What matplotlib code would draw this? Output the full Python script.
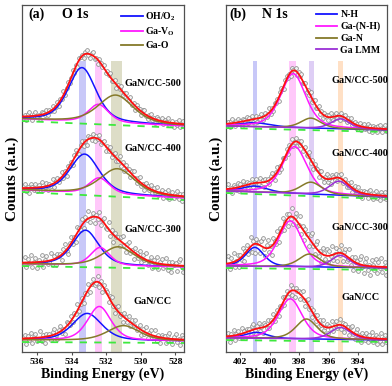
import numpy as np
import matplotlib
matplotlib.use('Agg')
import matplotlib.pyplot as plt
from matplotlib.lines import Line2D

plt.rcParams['font.family'] = 'Liberation Serif'
plt.rcParams['font.weight'] = 'bold'
plt.rcParams['mathtext.fontset'] = 'custom'
plt.rcParams['mathtext.rm'] = 'Liberation Serif:bold'
plt.rcParams['mathtext.it'] = 'Liberation Serif:bold'

# ---- data (eV, counts in arbitrary offset units) ----
samples = ['GaN/CC-500', 'GaN/CC-400', 'GaN/CC-300', 'GaN/CC']

# O 1s
o_names = ['OH/O$_2$', 'Ga-V$_\\mathrm{O}$', 'Ga-O']
o_colors = ['#1414ff', '#ff19ff', '#857a2a']
o_centers = [[533.40, 532.45, 531.45],
             [533.25, 532.40, 531.35],
             [533.20, 532.35, 531.30],
             [533.10, 532.40, 531.00]]
o_heights = [[54, 18, 28],
             [39, 16, 26],
             [35, 18, 19],
             [27, 34, 15]]
o_fwhm = [[1.9, 1.4, 2.4],
          [2.0, 1.4, 2.4],
          [1.8, 1.3, 2.2],
          [2.0, 1.6, 2.2]]
o_base_left = [233, 162, 88, 12]
o_base_right = [226, 154, 85, 11]
o_noise = [4, 5, 7, 6]
o_bands = [533.37, 532.43, 531.40]
o_band_w = [0.37, 0.40, 0.62]
o_band_colors = ['#9c9cf4', '#ff9cf6', '#c2c29a']

# N 1s
n_names = ['N-H', 'Ga-(N-H)', 'Ga-N', 'Ga LMM']
n_colors = ['#1414ff', '#ff19ff', '#857a2a', '#9a2fd6']
n_centers = [[401.0, 398.40, 397.2, 395.2],
             [401.0, 398.30, 397.2, 395.3],
             [401.0, 398.60, 397.3, 395.2],
             [400.9, 398.60, 397.5, 395.2]]
n_heights = [[4, 54, 10, 10],
             [6, 47, 12, 14],
             [19, 46, 13, 12],
             [6, 40, 20, 12]]
n_fwhm = [[2.5, 2.0, 1.6, 1.5],
          [2.0, 2.0, 1.7, 1.6],
          [1.5, 1.9, 1.7, 1.5],
          [1.8, 1.9, 1.7, 1.6]]
n_base_left = [226, 161, 86, 14]
n_base_right = [222, 155, 84, 12]
n_noise = [4, 5, 9, 6]
n_bands = [400.98, 398.45, 397.13, 395.22]
n_band_w = [0.26, 0.46, 0.34, 0.36]
n_band_colors = ['#9c9cf4', '#ff9cf6', '#c4a6ee', '#ffc896']

# hand-typed residual pattern for the measured points
resid = [0.3, -0.8, 0.6, 1.0, -0.2, -0.9, 0.4, 0.9, -0.5, 0.1,
         -1.0, 0.7, 0.2, -0.4, 0.8, -0.7, 0.5, -0.1, 1.0, -0.6,
         0.0, 0.6, -0.9, 0.3, -0.3, 0.9, -0.8, 0.2, 0.7, -0.5,
         -0.2, 1.0, -0.7, 0.4, -1.0, 0.5, 0.1]


def peak(x, c, h, w, eta=0.45):
    g = np.exp(-4 * np.log(2) * ((x - c) / w) ** 2)
    l = 1 / (1 + (2 * (x - c) / w) ** 2)
    return h * (eta * l + (1 - eta) * g)


def draw_panel(ax, xlim, centers, heights, fwhm, bl, br, noise, colors,
               bands, band_w, band_colors):
    x = np.linspace(xlim[0], xlim[1], 300)
    xd = np.arange(xlim[0] - 0.15, xlim[1], -0.09)
    for b, w, c in zip(bands, band_w, band_colors):
        ax.axvspan(b - w / 2, b + w / 2, ymin=0, ymax=0.84, color=c,
                   alpha=0.55, lw=0, zorder=0)
    for i in range(len(centers)):
        base = bl[i] + (br[i] - bl[i]) * (xlim[0] - x) / (xlim[0] - xlim[1])
        based = bl[i] + (br[i] - bl[i]) * (xlim[0] - xd) / (xlim[0] - xlim[1])
        total = base.copy()
        totald = based.copy()
        for c, h, w, col in zip(centers[i], heights[i], fwhm[i], colors):
            comp = peak(x, c, h, w)
            total += comp
            totald += peak(xd, c, h, w)
            ax.plot(x, base + comp, color=col, lw=1.1, zorder=3)
        r = np.array([resid[(k + 7 * i) % len(resid)] for k in range(len(xd))])
        ax.plot(xd, totald + noise[i] * r, 'o', ms=2.7, mfc='#f4f4f4',
                mec='#8a8a8a', mew=0.55, zorder=2)
        ax.plot(x, total, color='#ff1010', lw=1.3, zorder=4)
        ax.plot(x, base - 2, color='#3ee83e', lw=1.3, ls=(0, (4, 4)), zorder=5)
    ax.set_xlim(xlim)
    ax.set_ylim(0, 347)
    ax.set_yticks([])
    for s in ax.spines.values():
        s.set_color('#505050')
        s.set_linewidth(0.9)
    ax.tick_params(axis='x', labelsize=6.8, length=2.5, width=0.8,
                   color='#505050', pad=2)
    ax.set_xlabel('Binding Energy (eV)', fontsize=10, fontweight='bold',
                  labelpad=1)
    ax.set_ylabel('Counts (a.u.)', fontsize=11, fontweight='bold',
                  labelpad=2)


fig = plt.figure(figsize=(3.92, 3.86), dpi=100)
ax1 = fig.add_axes([22 / 392, 34 / 386, 162 / 392, 347 / 386])
ax2 = fig.add_axes([226 / 392, 34 / 386, 161 / 392, 347 / 386])

draw_panel(ax1, (536.87, 527.5), o_centers, o_heights, o_fwhm,
           o_base_left, o_base_right, o_noise, o_colors,
           o_bands, o_band_w, o_band_colors)
ax1.set_xticks([536, 534, 532, 530, 528])
draw_panel(ax2, (402.95, 392.05), n_centers, n_heights, n_fwhm,
           n_base_left, n_base_right, n_noise, n_colors,
           n_bands, n_band_w, n_band_colors)
ax2.set_xticks([402, 400, 398, 396, 394])

o_label_y = [269, 204, 123, 50]
n_label_y = [272, 199, 124, 54]
for s, y in zip(samples, o_label_y):
    ax1.text(529.3, y, s, fontsize=7.4, fontweight='bold', ha='center',
             va='center', zorder=6)
for s, y in zip(samples, n_label_y):
    ax2.text(393.85, y, s, fontsize=7.4, fontweight='bold', ha='center',
             va='center', zorder=6)

ax1.text(0.037, 0.972, '(a)', transform=ax1.transAxes, fontsize=10,
         fontweight='bold', va='center')
ax1.text(0.245, 0.972, 'O 1s', transform=ax1.transAxes, fontsize=10,
         fontweight='bold', va='center')
ax2.text(0.02, 0.972, '(b)', transform=ax2.transAxes, fontsize=10,
         fontweight='bold', va='center')
ax2.text(0.225, 0.972, 'N 1s', transform=ax2.transAxes, fontsize=10,
         fontweight='bold', va='center')

h1 = [Line2D([], [], color=c, lw=1.3) for c in o_colors]
ax1.legend(h1, o_names, loc='upper left', bbox_to_anchor=(0.6, 0.99),
           frameon=False, fontsize=7, handlelength=2.2, handletextpad=0.3,
           labelspacing=0.3, borderpad=0.2, borderaxespad=0)
h2 = [Line2D([], [], color=c, lw=1.3) for c in n_colors]
ax2.legend(h2, n_names, loc='upper left', bbox_to_anchor=(0.55, 0.99),
           frameon=False, fontsize=7, handlelength=2.2, handletextpad=0.3,
           labelspacing=0.28, borderpad=0.15, borderaxespad=0)

fig.savefig('out.png', dpi=100)
